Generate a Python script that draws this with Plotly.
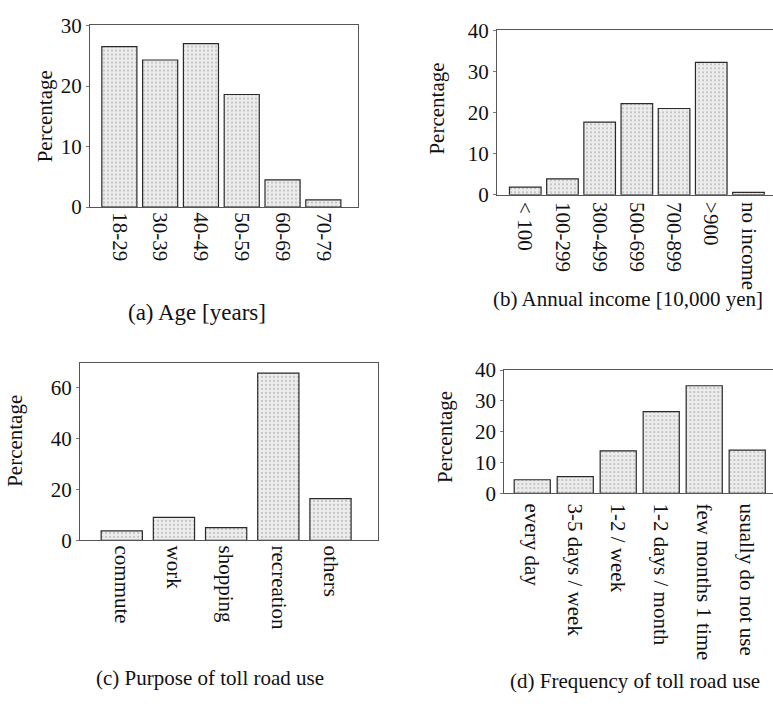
import plotly.graph_objects as go

# ---- data ----
age_labels = ["18-29", "30-39", "40-49", "50-59", "60-69", "70-79"]
age_values = [26.5, 24.3, 27.0, 18.6, 4.5, 1.2]

income_labels = ["< 100", "100-299", "300-499", "500-699", "700-899", ">900", "no income"]
income_values = [1.9, 3.9, 17.7, 22.2, 21.0, 32.2, 0.6]

purpose_labels = ["commute", "work", "shopping", "recreation", "others"]
purpose_values = [3.7, 9.0, 5.0, 65.6, 16.4]

freq_labels = ["every day", "3-5 days / week", "1-2 / week", "1-2 days / month",
               "few months 1 time", "usually do not use"]
freq_values = [4.4, 5.4, 13.8, 26.5, 34.9, 14.0]

captions = ["(a) Age [years]", "(b) Annual income [10,000 yen]",
            "(c) Purpose of toll road use", "(d) Frequency of toll road use"]

W, H = 773, 704
FONT = "Liberation Serif"

def px(x):
    return x / W

def py(y):
    return 1 - y / H

panels = [
    dict(labels=age_labels, values=age_values, xd=[px(90), px(358)], yd=[py(202), py(13)],
         xr=[-0.72, 5.85], yr=[0, 30.15], ticks=[0, 10, 20, 30], mirror_y=True,
         bargap=0.14, title_xy=(45, 108), cap_xy=(197, 311), cap_size=23, standoff=0),
    dict(labels=income_labels, values=income_values, xd=[px(497), 1.0], yd=[py(189.3), py(19)],
         xr=[-0.76, 6.66], yr=[0, 40], ticks=[0, 10, 20, 30, 40], mirror_y=False,
         bargap=0.15, title_xy=(437, 100), cap_xy=(628, 297), cap_size=21, standoff=2),
    dict(labels=purpose_labels, values=purpose_values, xd=[px(80), px(378)], yd=[py(547), py(363.3)],
         xr=[-0.80, 4.91], yr=[0, 69.6], ticks=[0, 20, 40, 60], mirror_y=True,
         bargap=0.21, title_xy=(15, 444), cap_xy=(210, 690), cap_size=21, standoff=0),
    dict(labels=freq_labels, values=freq_values, xd=[px(504.3), 1.0], yd=[py(498.3), py(370.7)],
         xr=[-0.65, 5.6], yr=[0, 40], ticks=[0, 10, 20, 30, 40], mirror_y=False,
         bargap=0.16, title_xy=(445, 440), cap_xy=(635, 693), cap_size=21, standoff=5),
]

fig = go.Figure()
annotations = []
for i, p in enumerate(panels):
    n = "" if i == 0 else str(i + 1)
    fig.add_trace(go.Bar(
        x=p["labels"], y=p["values"], xaxis="x" + n, yaxis="y" + n,
        width=1 - p["bargap"],
        marker=dict(color="#e4e4e4",
                    line=dict(color="#2a2a2a", width=1.2),
                    pattern=dict(shape=".", size=4, solidity=0.22,
                                 fgcolor="#8e8e8e", bgcolor="#ececec")),
        showlegend=False,
    ))
    fig.layout["xaxis" + n] = dict(
        domain=p["xd"], anchor="y" + n, range=p["xr"], type="category",
        showline=True, linecolor="#555", linewidth=1, mirror=True,
        ticks="", tickangle=90, showgrid=False, zeroline=False,
        ticklabelstandoff=p["standoff"],
        tickfont=dict(family=FONT, size=21, color="#111"),
    )
    fig.layout["yaxis" + n] = dict(
        domain=p["yd"], anchor="x" + n, range=p["yr"],
        tickvals=p["ticks"], showline=True, linecolor="#555", linewidth=1,
        mirror=p["mirror_y"], ticks="outside", ticklen=3, tickcolor="#777",
        showgrid=False, zeroline=False,
        tickfont=dict(family=FONT, size=21, color="#111"),
    )
    tx, ty = p["title_xy"]
    annotations.append(dict(text="Percentage", x=px(tx), y=py(ty), xref="paper", yref="paper",
                            textangle=-90, showarrow=False, xanchor="center", yanchor="middle",
                            font=dict(family=FONT, size=21, color="#111")))
    cx, cy = p["cap_xy"]
    annotations.append(dict(text=captions[i], x=px(cx), y=py(cy), xref="paper", yref="paper",
                            showarrow=False, xanchor="center", yanchor="middle",
                            font=dict(family=FONT, size=p["cap_size"], color="#111")))

fig.update_layout(
    width=W, height=H, margin=dict(l=0, r=0, t=0, b=0),
    paper_bgcolor="white", plot_bgcolor="white",
    annotations=annotations, bargap=0.15,
    font=dict(family=FONT),
)

fig.write_html("out.html", config={"displayModeBar": False},
               post_script="document.body.style.margin='0';document.body.style.overflow='hidden';")
